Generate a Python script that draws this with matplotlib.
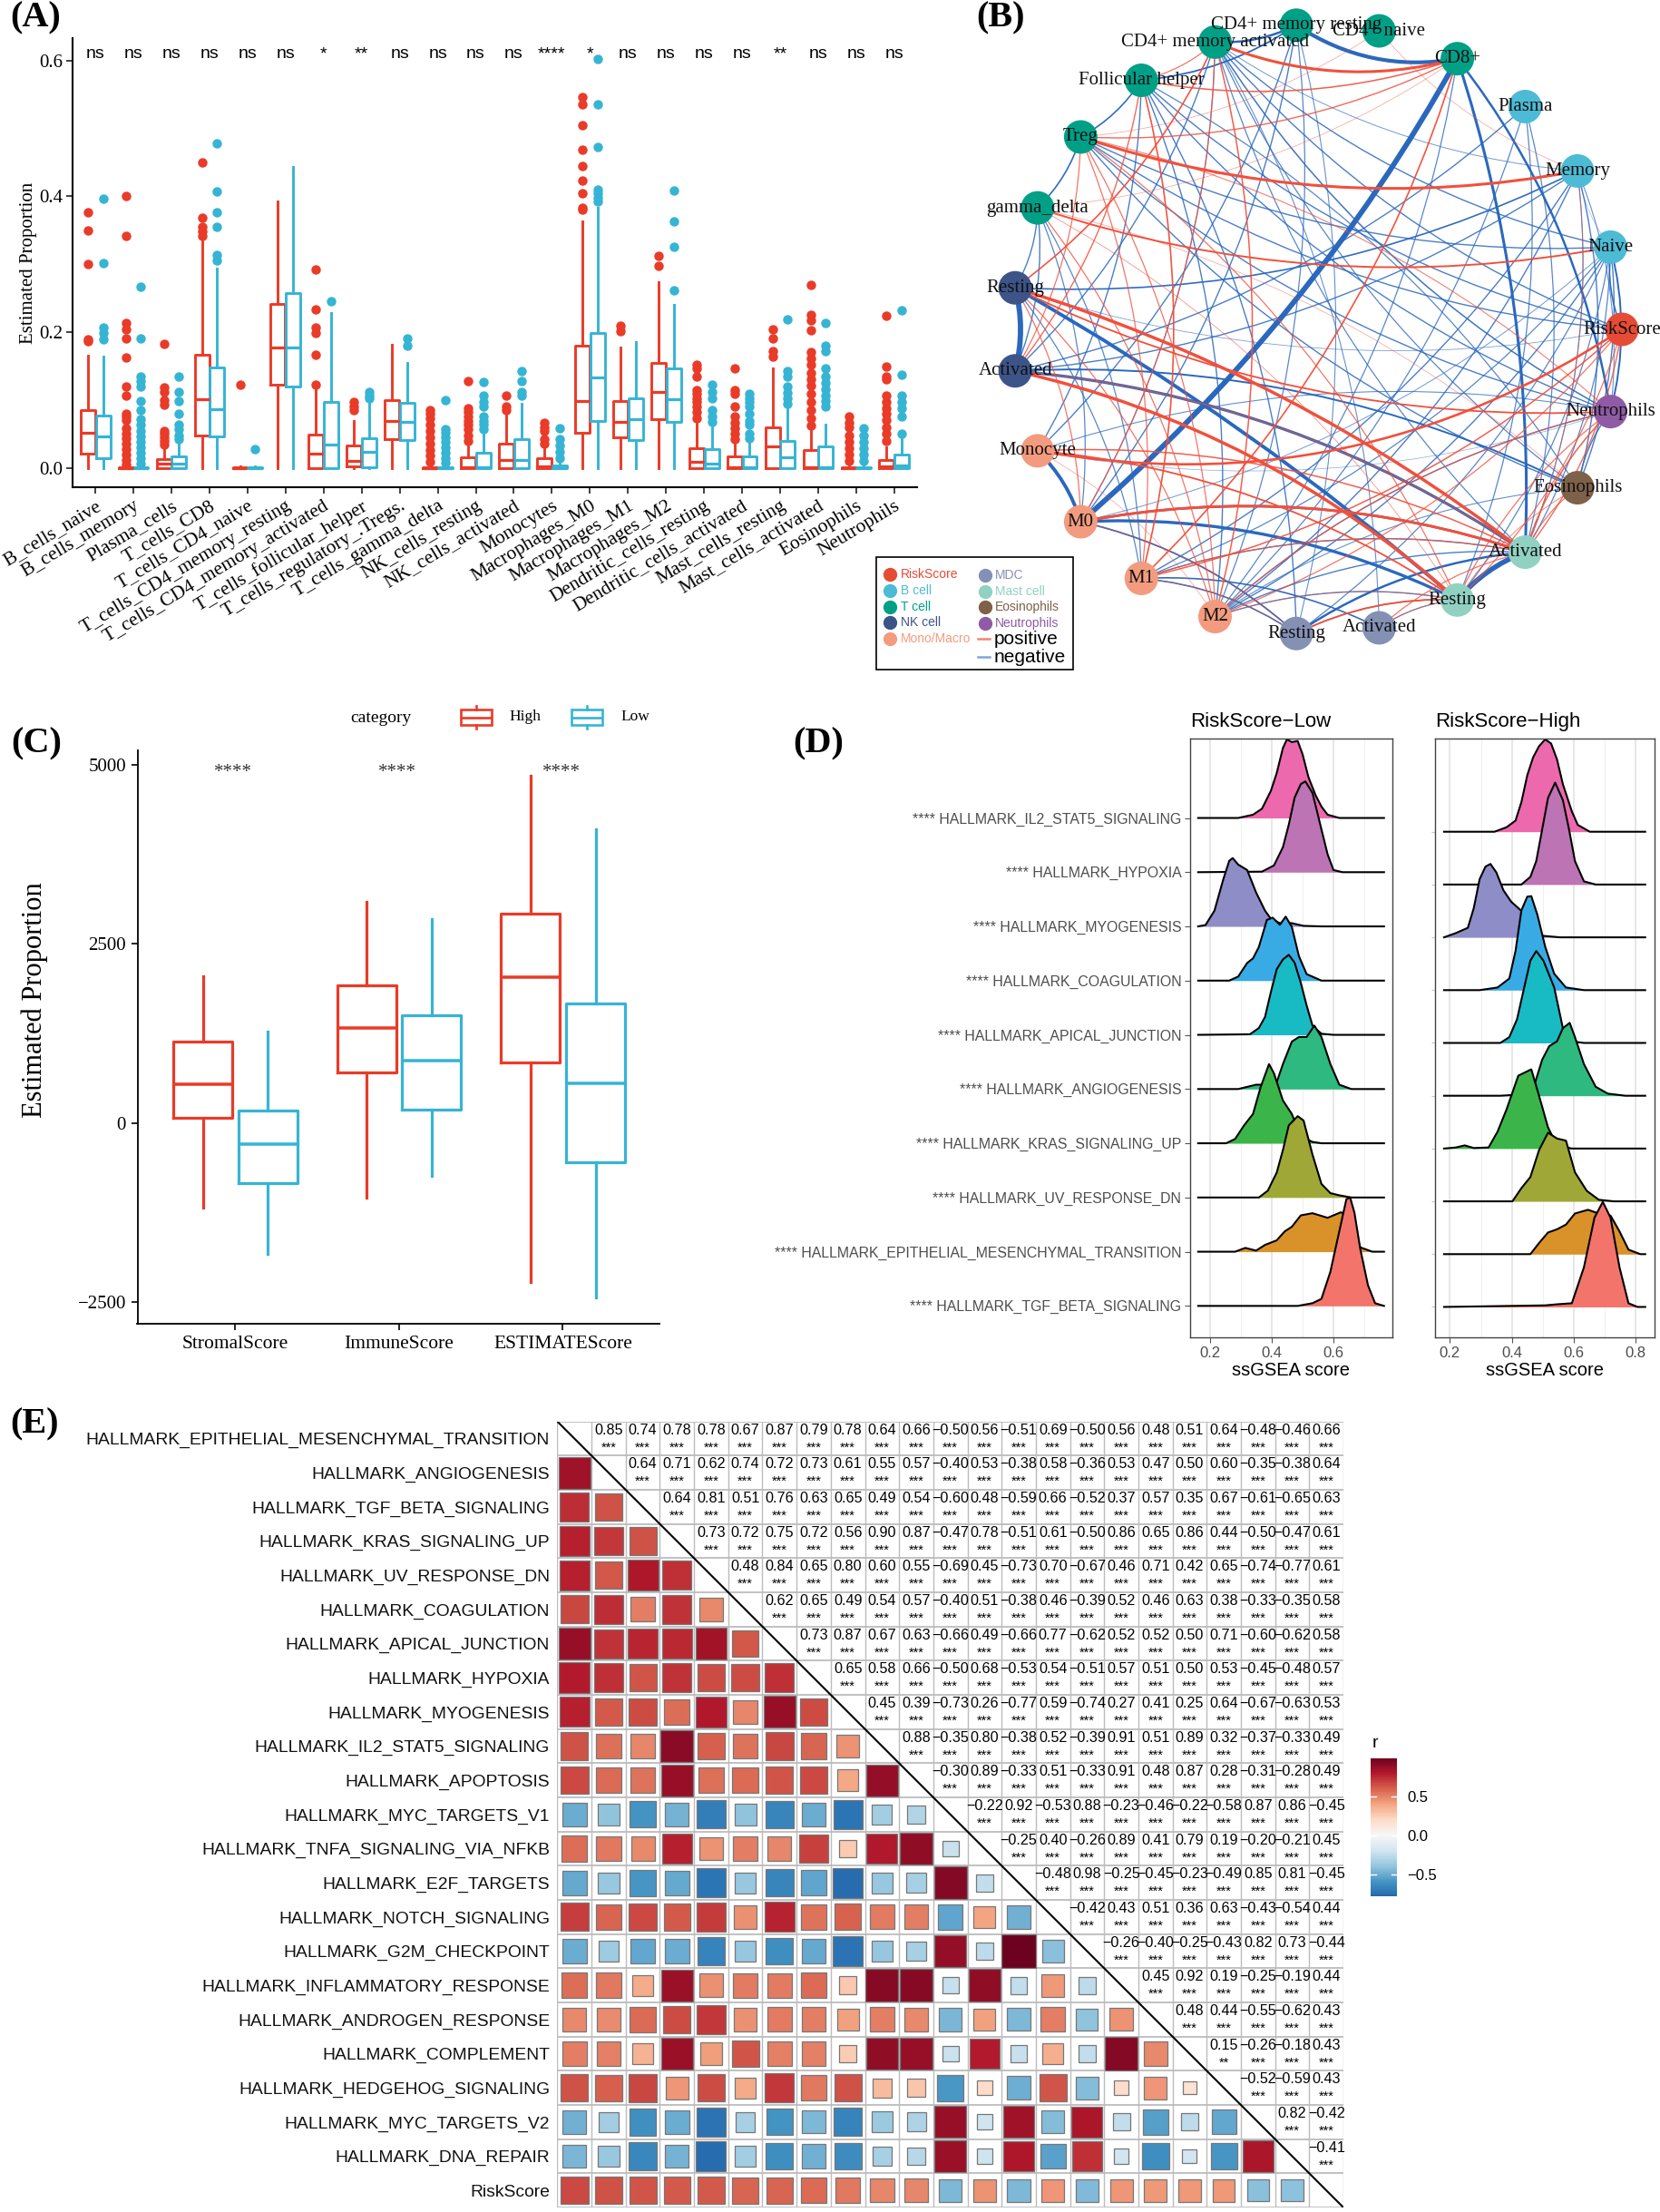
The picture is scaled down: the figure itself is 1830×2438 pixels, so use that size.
import numpy as np
import matplotlib
matplotlib.use("Agg")
import matplotlib.pyplot as plt
from matplotlib.patches import Circle, PathPatch, Rectangle
from matplotlib.path import Path
from matplotlib.cm import ScalarMappable
from matplotlib.colors import Normalize
from matplotlib.transforms import ScaledTranslation

W, H = 1830, 2438
SERIF = "Liberation Serif"
SANS = "Liberation Sans"
RED = "#E93B28"
BLUE = "#36B4D4"

# ---- panel A data
cells_a = ["B_cells_naive", "B_cells_memory", "Plasma_cells", "T_cells_CD8", "T_cells_CD4_naive",
           "T_cells_CD4_memory_resting", "T_cells_CD4_memory_activated", "T_cells_follicular_helper",
           "T_cells_regulatory_.Tregs.", "T_cells_gamma_delta", "NK_cells_resting", "NK_cells_activated",
           "Monocytes", "Macrophages_M0", "Macrophages_M1", "Macrophages_M2", "Dendritic_cells_resting",
           "Dendritic_cells_activated", "Mast_cells_resting", "Mast_cells_activated", "Eosinophils", "Neutrophils"]
sig_a = ["ns", "ns", "ns", "ns", "ns", "ns", "*", "**", "ns", "ns", "ns", "ns", "****", "*", "ns", "ns",
         "ns", "ns", "**", "ns", "ns", "ns"]
red_q1 = [.021, 0, 0, .048, 0, .123, 0, .002, .042, 0, 0, 0, 0, .051, .045, .071, 0, 0, 0, 0, 0, 0]
red_med = [.051, 0, .006, .101, 0, .177, .021, .010, .069, 0, .001, .011, .002, .098, .0675, .112, .009, .001, .031, .001, 0, .002]
red_q3 = [.085, .001, .013, .166, .001, .241, .049, .033, .100, .001, .016, .035, .014, .180, .099, .154, .029, .017, .060, .026, .001, .012]
red_hi = [.165, .002, .030, .333, .002, .393, .120, .069, .181, .002, .036, .080, .030, .363, .177, .273, .065, .040, .146, .057, .002, .030]
red_out = [[.376, .35, .30, .189, .186],
           [.401, .342, .213, .204, .191, .163, .12, .106, .08, .075, .07, .058, .05, .043, .035, .028, .02, .012, .005],
           [.183, .118, .112, .10, .093, .054, .05, .045, .04, .034],
           [.45, .369, .355, .348, .341],
           [.122],
           [],
           [.292, .233, .207, .198, .167, .123],
           [.097, .091, .085],
           [],
           [.085, .079, .073, .064, .054, .045, .036, .026, .018, .009],
           [.128, .088, .082, .075, .069, .063, .057, .048, .04],
           [.106, .09, .085],
           [.066, .06, .054, .042, .036],
           [.546, .536, .505, .469, .444, .423, .405, .383, .38],
           [.209, .201],
           [.312, .298],
           [.152, .146, .135, .115, .109, .103, .097, .09, .082, .073],
           [.146, .115, .109, .091, .075, .066, .058, .05, .042],
           [.204, .191, .172, .164],
           [.27, .226, .217, .203, .17, .161, .152, .14, .131, .121, .109, .097, .085, .073, .062],
           [.075, .066, .06, .048, .038, .029, .02, .01],
           [.224, .149, .134, .13, .106, .097, .088, .08, .07, .06, .05, .04]]
blue_q1 = [.014, 0, 0, .046, 0, .120, 0, .001, .041, 0, 0, 0, 0, .069, .041, .068, 0, 0, 0, 0, 0, 0]
blue_med = [.046, 0, .006, .0865, 0, .177, .034, .023, .068, 0, .001, .011, 0, .133, .071, .101, .006, .001, .016, .001, 0, .003]
blue_q3 = [.077, .001, .017, .148, .001, .258, .097, .043, .096, .001, .022, .042, .004, .199, .103, .146, .028, .017, .040, .032, .001, .020]
blue_hi = [.164, .002, .040, .293, .002, .443, .228, .094, .155, .002, .050, .095, .010, .383, .185, .240, .060, .040, .087, .064, .002, .050]
blue_out = [[.396, .301, .207, .198, .189],
            [.267, .19, .135, .128, .12, .099, .085, .072, .063, .054, .046, .038, .03, .022, .014, .006],
            [.134, .112, .099, .08, .063, .057, .048, .042],
            [.478, .407, .376, .355, .313, .306],
            [.028],
            [],
            [.246],
            [.112, .106, .103],
            [.191, .18],
            [.10, .057, .051, .045, .038, .03, .022, .014, .007],
            [.126, .107, .097, .09, .075, .069, .063, .057],
            [.143, .128, .112, .106],
            [.058, .042, .033, .023, .014],
            [.602, .535, .472, .41, .404, .398, .393],
            [],
            [.409, .363, .325, .262],
            [.123, .112, .103, .085, .075, .067],
            [.109, .103, .097, .091, .079, .069, .063, .05, .044],
            [.219, .142, .134, .12, .111, .102, .095],
            [.213, .18, .172, .146, .134, .125, .116, .107, .098, .09],
            [.058, .048, .038, .029, .02, .01],
            [.232, .137, .106, .097, .088, .075, .05]]

# ---- panel B data
node_names = ["RiskScore", "Naive", "Memory", "Plasma", "CD8+", "CD4+ naive", "CD4+ memory resting",
              "CD4+ memory activated", "Follicular helper", "Treg", "gamma_delta", "Resting", "Activated",
              "Monocyte", "M0", "M1", "M2", "Resting", "Activated", "Resting", "Activated", "Eosinophils",
              "Neutrophils"]
node_colors = ["#E64B35"] + ["#4DBBD5"] * 3 + ["#00A087"] * 7 + ["#3C5488"] * 2 + ["#F39B7F"] * 4 + \
              ["#8491B4"] * 2 + ["#91D1C2"] * 2 + ["#7E6148", "#8F5BA5"]
pos_edges = [(7, 4, 2.2), (8, 4, 1.1), (9, 4, 1.0), (9, 2, 2.2), (9, 5, .5), (10, 1, 1.4), (10, 4, .5),
             (11, 22, 1.3), (20, 11, 2.5), (19, 12, 2.5), (13, 0, 1.9), (19, 13, 1.3), (20, 13, 1.1),
             (20, 14, 2.1), (16, 7, 1.1), (15, 8, 1.2), (15, 9, .9), (16, 9, .9), (16, 10, .9),
             (15, 4, 1.2), (11, 7, 1.2), (12, 8, 1.0), (12, 9, .9), (14, 11, .9), (16, 11, .9),
             (15, 0, 1.1), (16, 0, .9), (22, 20, 1.1), (22, 19, .9), (20, 0, 1.0), (19, 0, .9),
             (21, 20, .9), (21, 19, .7), (20, 2, .6), (5, 2, .5), (19, 17, 1.3), (20, 18, .9),
             (8, 7, .9), (19, 10, .6), (21, 10, .5), (19, 9, .9), (22, 9, .8),
             (20, 12, .9), (17, 15, .6), (16, 13, .5), (14, 7, .9), (19, 18, .7),
             (19, 16, .6), (22, 16, .9), (20, 15, .9), (17, 14, .6)]
neg_edges = [(14, 4, 4.2), (6, 4, 3.0), (12, 11, 4.2), (19, 11, 2.8), (20, 12, 2.3), (21, 12, 1.4), (14, 13, 2.8),
             (20, 19, 4.0), (19, 14, 2.4), (20, 14, 1.9), (20, 4, 2.2), (22, 4, 1.8), (17, 15, 1.2), (18, 15, 1.2),
             (17, 14, 1.3), (20, 15, 1.0), (20, 16, 1.0), (19, 16, 1.0), (21, 16, .8), (22, 16, 1.0),
             (19, 17, 1.0), (20, 17, 1.8), (19, 18, .9), (9, 8, 1.2), (10, 9, 1.2), (7, 6, 1.8), (8, 6, 1.3),
             (7, 2, .7), (7, 1, 1.0), (7, 0, 1.0), (7, 22, 1.1), (7, 21, .9), (7, 20, .9), (8, 0, 1.0),
             (8, 22, 1.0), (16, 8, 1.0), (17, 8, 1.0), (9, 0, 1.0), (9, 22, 1.0), (9, 21, 1.0), (9, 1, 1.0),
             (11, 10, 1.0), (14, 10, .9), (15, 10, .9), (11, 2, 1.2), (12, 3, 1.0), (12, 2, 1.0),
             (15, 11, .9), (11, 0, .6), (13, 6, 1.0), (13, 8, 1.0), (13, 22, .5), (14, 6, 1.0),
             (14, 1, .7), (14, 7, .9), (15, 2, 1.0), (15, 1, .9), (16, 1, 1.0), (16, 2, 1.0), (16, 3, .9),
             (16, 6, .9), (17, 1, .9), (19, 3, .9), (21, 2, 1.0), (22, 1, 1.4), (1, 0, 1.2), (21, 1, 1.0),
             (20, 1, .9), (19, 1, .9), (22, 21, 1.0), (12, 10, 1.0), (2, 1, .4),
             (18, 7, .8), (20, 3, .9), (22, 2, .8), (12, 7, 1.0), (16, 4, .9), (21, 8, .9),
             (17, 6, .8), (20, 2, .9), (22, 13, .8)]
# pairs whose curve is flatter or rounder than the rest
edge_bulge = {(14, 4): .09, (20, 4): .09, (19, 11): .05, (20, 11): .09, (6, 4): .2, (7, 4): .17, (13, 0): .2}

# ---- panel C data
scores = ["StromalScore", "ImmuneScore", "ESTIMATEScore"]
high_q1 = [69, 711, 844]
high_med = [535, 1322, 2034]
high_q3 = [1133, 1920, 2928]
high_lo = [-1184, -1039, -2223]
high_hi = [2046, 3085, 4842]
low_q1 = [-844, 189, -554]
low_med = [-296, 875, 548]
low_q3 = [170, 1505, 1669]
low_lo = [-1826, -743, -2431]
low_hi = [1278, 2852, 4106]

# ---- panel D data (top ridge first)
sets_d = ["IL2_STAT5_SIGNALING", "HYPOXIA", "MYOGENESIS", "COAGULATION", "APICAL_JUNCTION", "ANGIOGENESIS",
          "KRAS_SIGNALING_UP", "UV_RESPONSE_DN", "EPITHELIAL_MESENCHYMAL_TRANSITION", "TGF_BETA_SIGNALING"]
ridge_colors = ["#EC69AE", "#BC74B4", "#8E8DC8", "#39ABE4", "#18BBC4", "#2DB97F", "#3BB54A", "#9FA836",
                "#D9922A", "#F3746B"]
low_x = [[.291, .339, .368, .397, .416, .436, .449, .465, .484, .5, .519, .542, .561, .581, .619],
         [.368, .407, .436, .455, .474, .494, .509, .532, .561, .581, .6, .629],
         [.161, .185, .214, .243, .262, .273, .291, .32, .349, .378, .397, .426, .465, .503, .561],
         [.262, .291, .32, .339, .358, .384, .403, .426, .445, .465, .488, .513, .561],
         [.329, .358, .378, .397, .416, .436, .455, .474, .494, .513, .532, .561, .6],
         [.291, .32, .349, .378, .416, .436, .465, .488, .513, .538, .561, .59, .619, .658],
         [.252, .281, .31, .339, .364, .391, .407, .436, .465, .494, .532, .561],
         [.358, .387, .416, .436, .455, .484, .503, .532, .561, .59, .619, .658],
         [.281, .314, .349, .378, .416, .442, .465, .494, .532, .581, .623, .648, .687, .726],
         [.484, .532, .561, .59, .619, .642, .654, .668, .687, .712, .735, .764]]
low_h = [[0, .06, .17, .5, .83, 1.29, 1.45, 1.4, 1.42, 1.17, .75, .42, .21, .06, 0],
         [.01, .125, .46, .875, 1.375, 1.625, 1.675, 1.46, .79, .33, .04, 0],
         [0, .025, .29, .875, 1.21, 1.26, 1.14, 1.04, .625, .29, .14, .06, .06, .01, 0],
         [0, .075, .325, .41, .62, 1.12, 1.16, 1.03, 1.18, .99, .45, .12, 0],
         [.01, .125, .33, .79, 1.21, 1.39, 1.475, 1.33, .96, .54, .17, .02, 0],
         [0, .04, .08, .08, .125, .46, .875, .96, .96, 1.17, .96, .46, .08, 0],
         [0, .08, .33, .54, 1.04, 1.46, 1.29, .79, .54, .125, .025, 0],
         [0, .125, .46, .875, 1.33, 1.5, 1.42, .79, .25, .08, .04, 0],
         [0, .07, .02, .125, .21, .375, .46, .67, .71, .625, .725, .7, .08, 0],
         [0, .05, .13, .63, 1.38, 1.97, 2.0, 1.72, 1.05, .38, .05, 0]]
high_x = [[.344, .383, .412, .431, .45, .469, .488, .508, .527, .546, .565, .594, .613, .652],
          [.431, .46, .479, .498, .517, .54, .565, .585, .604, .633, .671],
          [.181, .219, .258, .277, .296, .315, .331, .35, .373, .398, .431, .46, .498, .556],
          [.296, .354, .392, .412, .431, .45, .463, .483, .508, .537, .575, .633],
          [.363, .392, .417, .44, .46, .479, .502, .537, .565, .594, .633],
          [.363, .421, .469, .498, .521, .546, .565, .587, .604, .633, .671, .71, .767],
          [.181, .219, .248, .277, .325, .354, .383, .421, .463, .488, .517, .546, .594],
          [.402, .431, .46, .488, .517, .546, .575, .604, .642, .681, .729],
          [.46, .488, .517, .546, .575, .604, .646, .681, .719, .748, .777, .815],
          [.508, .546, .594, .633, .667, .694, .719, .748, .777, .806]]
high_h = [[0, .085, .21, .56, 1.07, 1.41, 1.62, 1.75, 1.67, 1.37, .9, .385, .13, 0],
          [0, .145, .445, 1.04, 1.64, 1.93, 1.6, 1.04, .445, .06, 0],
          [0, .08, .18, .55, 1.1, 1.34, 1.39, 1.23, .89, .675, .5, .25, .03, 0],
          [0, .05, .22, .74, 1.51, 1.77, 1.78, 1.42, .82, .31, .05, 0],
          [0, .11, .45, 1.05, 1.56, 1.74, 1.56, 1.05, .28, .03, 0],
          [0, .02, .13, .68, .94, 1.03, 1.28, 1.38, 1.11, .6, .17, .04, 0],
          [0, .02, .06, .01, .02, .32, .74, 1.38, 1.5, 1.0, .4, .06, 0],
          [0, .25, .46, .97, 1.3, 1.19, 1.15, .55, .2, .03, 0],
          [0, .21, .41, .47, .56, .77, .84, .77, .73, .43, .085, 0],
          [.03, .05, .07, .75, 1.69, 1.99, 1.69, .75, .07, 0]]

# ---- panel E data
sets_e = ["EPITHELIAL_MESENCHYMAL_TRANSITION", "ANGIOGENESIS", "TGF_BETA_SIGNALING", "KRAS_SIGNALING_UP",
          "UV_RESPONSE_DN", "COAGULATION", "APICAL_JUNCTION", "HYPOXIA", "MYOGENESIS", "IL2_STAT5_SIGNALING",
          "APOPTOSIS", "MYC_TARGETS_V1", "TNFA_SIGNALING_VIA_NFKB", "E2F_TARGETS", "NOTCH_SIGNALING",
          "G2M_CHECKPOINT", "INFLAMMATORY_RESPONSE", "ANDROGEN_RESPONSE", "COMPLEMENT", "HEDGEHOG_SIGNALING",
          "MYC_TARGETS_V2", "DNA_REPAIR"]
corr_rows = [
    [.85, .74, .78, .78, .67, .87, .79, .78, .64, .66, -.50, .56, -.51, .69, -.50, .56, .48, .51, .64, -.48, -.46, .66],
    [.64, .71, .62, .74, .72, .73, .61, .55, .57, -.40, .53, -.38, .58, -.36, .53, .47, .50, .60, -.35, -.38, .64],
    [.64, .81, .51, .76, .63, .65, .49, .54, -.60, .48, -.59, .66, -.52, .37, .57, .35, .67, -.61, -.65, .63],
    [.73, .72, .75, .72, .56, .90, .87, -.47, .78, -.51, .61, -.50, .86, .65, .86, .44, -.50, -.47, .61],
    [.48, .84, .65, .80, .60, .55, -.69, .45, -.73, .70, -.67, .46, .71, .42, .65, -.74, -.77, .61],
    [.62, .65, .49, .54, .57, -.40, .51, -.38, .46, -.39, .52, .46, .63, .38, -.33, -.35, .58],
    [.73, .87, .67, .63, -.66, .49, -.66, .77, -.62, .52, .52, .50, .71, -.60, -.62, .58],
    [.65, .58, .66, -.50, .68, -.53, .54, -.51, .57, .51, .50, .53, -.45, -.48, .57],
    [.45, .39, -.73, .26, -.77, .59, -.74, .27, .41, .25, .64, -.67, -.63, .53],
    [.88, -.35, .80, -.38, .52, -.39, .91, .51, .89, .32, -.37, -.33, .49],
    [-.30, .89, -.33, .51, -.33, .91, .48, .87, .28, -.31, -.28, .49],
    [-.22, .92, -.53, .88, -.23, -.46, -.22, -.58, .87, .86, -.45],
    [-.25, .40, -.26, .89, .41, .79, .19, -.20, -.21, .45],
    [-.48, .98, -.25, -.45, -.23, -.49, .85, .81, -.45],
    [-.42, .43, .51, .36, .63, -.43, -.54, .44],
    [-.26, -.40, -.25, -.43, .82, .73, -.44],
    [.45, .92, .19, -.25, -.19, .44],
    [.48, .44, -.55, -.62, .43],
    [.15, -.26, -.18, .43],
    [-.52, -.59, .43],
    [.82, -.42],
    [-.41],
]

fig = plt.figure(figsize=(W / 100, H / 100), dpi=100)


def axpx(left, top, right, bottom, **kw):
    return fig.add_axes([left / W, 1 - bottom / H, (right - left) / W, (bottom - top) / H], **kw)


def make_stats(q1, med, q3, lo, hi, out=None):
    res = []
    for i in range(len(med)):
        res.append(dict(q1=q1[i], med=med[i], q3=q3[i], whislo=lo[i], whishi=hi[i],
                        fliers=out[i] if out else []))
    return res


def draw_boxes(ax, stats, pos, width, color, lw, ms=6.5):
    ax.bxp(stats, positions=pos, widths=width, showcaps=False, manage_ticks=False,
           boxprops=dict(color=color, linewidth=lw),
           whiskerprops=dict(color=color, linewidth=lw),
           medianprops=dict(color=color, linewidth=lw * 1.1, solid_capstyle="butt"),
           flierprops=dict(marker="o", markerfacecolor=color, markeredgecolor=color, markersize=ms))


# ---- panel A
ax = axpx(80, 42, 1011, 537)
pos = np.arange(len(cells_a))
zeros = [0] * len(pos)
draw_boxes(ax, make_stats(red_q1, red_med, red_q3, zeros, red_hi, red_out), pos - .2, .38, RED, 2.1)
draw_boxes(ax, make_stats(blue_q1, blue_med, blue_q3, zeros, blue_hi, blue_out), pos + .2, .38, BLUE, 2.1)
ax.set_xlim(-.6, 21.6)
ax.set_ylim(-.0286, .633)
ax.set_xticks(pos)
ax.set_xticklabels(cells_a, rotation=31, ha="right", rotation_mode="anchor", family=SERIF, fontsize=15.5)
ax.set_yticks([0, .2, .4, .6])
ax.set_yticklabels(["0.0", "0.2", "0.4", "0.6"], family=SERIF, fontsize=15)
ax.tick_params(length=5, width=1.2, color="#222222", pad=3)
ax.set_ylabel("Estimated Proportion", family=SERIF, fontsize=15)
ax.yaxis.set_label_coords(-.042, .499)
for s in ("top", "right"):
    ax.spines[s].set_visible(False)
for s in ("left", "bottom"):
    ax.spines[s].set_linewidth(1.5)
for i, s in enumerate(sig_a):
    ax.text(i, .609, s, ha="center", va="center", family=SANS, fontsize=14)

# ---- panel B
span = 1.12
R = 336
ax = axpx(1452 - R * span, 363 - R * span, 1452 + R * span, 363 + R * span)
ax.set_xlim(-span, span)
ax.set_ylim(-span, span)
ax.axis("off")
angles = 2 * np.pi * np.arange(len(node_names)) / len(node_names)
node_x = np.cos(angles)
node_y = np.sin(angles)


def draw_edge(a, b, w, color):
    x0, y0, x1, y1 = node_x[a], node_y[a], node_x[b], node_y[b]
    dx, dy = x1 - x0, y1 - y0
    rad = edge_bulge.get((a, b), .13)
    ctrl = ((x0 + x1) / 2 + rad * dy, (y0 + y1) / 2 - rad * dx)
    path = Path([(x0, y0), ctrl, (x1, y1)], [Path.MOVETO, Path.CURVE3, Path.CURVE3])
    ax.add_patch(PathPatch(path, fc="none", ec=color, lw=w, alpha=min(1, .25 + w * .6), zorder=2))


for a, b, w in neg_edges:
    draw_edge(a, b, w, "#2B68BD")
for a, b, w in pos_edges:
    draw_edge(a, b, w, "#F1503C")
for x, y, c, name in zip(node_x, node_y, node_colors, node_names):
    ax.add_patch(Circle((x, y), .055, fc=c, ec="none", zorder=3))
    ax.text(x, y, name, ha="center", va="center", family=SERIF, fontsize=15, zorder=4, color="#111111")

# ---- panel C
ax = axpx(151.5, 827, 727, 1459)
pos = np.arange(len(scores))
draw_boxes(ax, make_stats(high_q1, high_med, high_q3, high_lo, high_hi), pos - .197, .36, RED, 2.3)
draw_boxes(ax, make_stats(low_q1, low_med, low_q3, low_lo, low_hi), pos + .2, .36, BLUE, 2.3)
ax.set_xlim(-.596, 2.59)
ax.set_ylim(-2804, 5203)
ax.set_xticks(pos)
ax.set_xticklabels(scores, family=SERIF, fontsize=15.5)
for lab, shift in zip(ax.get_xticklabels(), [-8, -8, 2]):
    lab.set_transform(lab.get_transform() + ScaledTranslation(shift / 100, 0, fig.dpi_scale_trans))
ax.set_yticks([-2500, 0, 2500, 5000])
ax.set_yticklabels(["\u22122500", "0", "2500", "5000"], family=SERIF, fontsize=15)
ax.tick_params(length=5, width=1.2, pad=4)
ax.set_ylabel("Estimated Proportion", family=SERIF, fontsize=22)
ax.yaxis.set_label_coords(-.171, .565)
for s in ("top", "right"):
    ax.spines[s].set_visible(False)
for s in ("left", "bottom"):
    ax.spines[s].set_linewidth(1.3)
for i in pos:
    ax.text(i - .01, 4890, "****", ha="center", va="center", family=SERIF, fontsize=15, color="#333333")


# ---- panel D
def ridge_panel(left, right, x_lo, x_hi, y_lo, y_hi, xs, hs, base_lo, base_hi, ticks, with_labels):
    ax = axpx(left, 813.7, right, 1474)
    n = len(xs)
    for i in range(n):
        base = n - i
        x = [base_lo] + xs[i] + [base_hi]
        h = [0] + hs[i] + [0]
        y = base + np.array(h)
        ax.fill_between(x, base, y, color=ridge_colors[i], lw=0, zorder=3 + i)
        ax.plot(x, y, color="black", lw=1.5, zorder=3 + i, solid_joinstyle="round")
    ax.set_xlim(x_lo, x_hi)
    ax.set_ylim(y_lo, y_hi)
    ax.set_xticks(ticks)
    ax.set_xticklabels([f"{t:.1f}" for t in ticks], family=SANS, fontsize=12, color="#4d4d4d")
    ax.set_xticks([t + .1 for t in ticks if t + .1 < x_hi], minor=True)
    ax.grid(True, axis="x", which="major", color="#e3e3e3", lw=1.2, zorder=0)
    ax.grid(True, axis="x", which="minor", color="#f0f0f0", lw=.7, zorder=0)
    ax.tick_params(axis="x", which="minor", length=0)
    ax.set_axisbelow(True)
    ax.set_yticks(np.arange(n, 0, -1))
    ax.tick_params(axis="both", which="major", length=4, width=.8, color="#555555", pad=3)
    if with_labels:
        ax.set_yticklabels([f"**** HALLMARK_{s}" for s in sets_d], family=SANS, fontsize=11.4, color="#4d4d4d")
    else:
        ax.set_yticklabels([])
        ax.tick_params(axis="y", length=3, color="#c8c8c8")
    ax.set_xlabel("ssGSEA score", family=SANS, fontsize=14.5, labelpad=2)
    for s in ax.spines.values():
        s.set_edgecolor("#444444")
        s.set_linewidth(1.0)
        s.set_zorder(30)
    return ax


ax = ridge_panel(1312, 1534.6, .135, .79, .42, 11.47, low_x, low_h, .161, .764, [.2, .4, .6], True)
ax.set_title("RiskScore\u2212Low", loc="left", family=SANS, fontsize=16, pad=9)
ax = ridge_panel(1582, 1823.6, .152, .86, .424, 11.77, high_x, high_h, .181, .831, [.2, .4, .6, .8], False)
ax.set_title("RiskScore\u2212High", loc="left", family=SANS, fontsize=16, pad=9)

# ---- panel E
ax = axpx(614.4, 1566.7, 1481, 2433)
n = len(corr_rows) + 1
ax.set_xlim(0, n)
ax.set_ylim(n, 0)
ax.set_xticks([])
ax.set_yticks(np.arange(n) + .5)
ax.set_yticklabels([f"HALLMARK_{s}" for s in sets_e] + ["RiskScore"], family=SANS, fontsize=13.9, color="#111111")
ax.tick_params(axis="y", length=0, pad=6)
for s in ax.spines.values():
    s.set_visible(False)
ax.hlines(np.arange(n + 1), 0, n, color="#bcbcbc", lw=1.3, zorder=1)
ax.vlines(np.arange(n + 1), 0, n, color="#bcbcbc", lw=1.0, zorder=1)
cmap = plt.get_cmap("RdBu_r")
norm = Normalize(-1, 1)
for i, row in enumerate(corr_rows):
    for k, r in enumerate(row):
        j = i + 1 + k
        ax.text(j + .5, i + .25, f"{r:.2f}".replace("-", "\u2212"), ha="center", va="center",
                family=SANS, fontsize=11.6, color="black", zorder=3)
        stars = "**" if (i == 18 and j == 19) else "***"
        ax.text(j + .5, i + .76, stars, ha="center", va="center", family=SANS, fontsize=10.5,
                color="black", zorder=3)
        side = np.sqrt(abs(r))
        ax.add_patch(Rectangle((i + .5 - side / 2, j + .5 - side / 2), side, side, fc=cmap(norm(r)),
                               ec="#777777", lw=.9, zorder=2))
ax.plot([0, n], [0, n], color="black", lw=1.5, zorder=4)

cb_lo, cb_hi = -.78, .985
cax = axpx(1511, 1938, 1540, 2090)
cb = fig.colorbar(ScalarMappable(norm=norm, cmap=cmap), cax=cax, boundaries=np.linspace(cb_lo, cb_hi, 200))
cb.set_ticks([-.5, 0, .5])
cb.ax.tick_params(length=0, labelsize=12, pad=8)
for t in cb.ax.get_yticklabels():
    t.set_family(SANS)
cb.outline.set_visible(False)
for v in (-.5, 0, .5):
    cax.plot([0, .2], [v, v], color="white", lw=1, transform=cax.get_yaxis_transform())
    cax.plot([.8, 1], [v, v], color="white", lw=1, transform=cax.get_yaxis_transform())

# ---- overlay: panel letters and the two hand-made legends
ov = fig.add_axes([0, 0, 1, 1], facecolor="none", zorder=50)
ov.set_xlim(0, W)
ov.set_ylim(H, 0)
ov.axis("off")
for letter, lx, ly in [("(A)", 39, 20), ("(B)", 1103, 20), ("(C)", 40, 820), ("(D)", 902, 820), ("(E)", 38, 1570)]:
    ov.text(lx, ly, letter, ha="center", va="center", family=SERIF, fontsize=29, fontweight="bold")

# legend of panel B
ov.add_patch(Rectangle((966, 614), 217, 124, fc="white", ec="black", lw=1.2, zorder=1))
legend_left = [("RiskScore", "#E64B35", 633), ("B cell", "#4DBBD5", 651), ("T cell", "#00A087", 669),
               ("NK cell", "#3C5488", 686), ("Mono/Macro", "#F39B7F", 704)]
legend_right = [("MDC", "#8491B4", 634), ("Mast cell", "#91D1C2", 652), ("Eosinophils", "#7E6148", 669),
                ("Neutrophils", "#8F5BA5", 687)]
for label, c, y in legend_left:
    ov.plot(981, y, "o", color=c, ms=10, zorder=2)
    ov.text(993, y, label, va="center", family=SANS, fontsize=10, color=c, zorder=2)
for label, c, y in legend_right:
    ov.plot(1086, y, "o", color=c, ms=10, zorder=2)
    ov.text(1097, y, label, va="center", family=SANS, fontsize=10, color=c, zorder=2)
ov.plot([1078, 1091], [704, 704], color="#F1503C", lw=1.8, alpha=.7, zorder=2)
ov.plot([1078, 1091], [724, 724], color="#2B68BD", lw=1.8, alpha=.6, zorder=2)
ov.text(1096, 705, "positive", va="center", family=SANS, fontsize=15, zorder=2)
ov.text(1096, 725, "negative", va="center", family=SANS, fontsize=15, zorder=2)

# legend of panel C
ov.text(420, 791, "category", ha="center", va="center", family=SERIF, fontsize=14)
for x0, c, label, tx in [(508, RED, "High", 579), (630, BLUE, "Low", 700)]:
    ov.add_patch(Rectangle((x0, 782), 34, 17, fc="white", ec=c, lw=1.9))
    ov.plot([x0, x0 + 34], [790.5, 790.5], color=c, lw=1.9, solid_capstyle="butt")
    ov.plot([x0 + 17, x0 + 17], [778, 782], color=c, lw=1.9)
    ov.plot([x0 + 17, x0 + 17], [799, 803], color=c, lw=1.9)
    ov.text(tx, 790, label, ha="center", va="center", family=SERIF, fontsize=12.5)

ov.text(1513, 1921, "r", ha="left", va="center", family=SANS, fontsize=14)

fig.savefig("out.png", dpi=100, facecolor="white")
